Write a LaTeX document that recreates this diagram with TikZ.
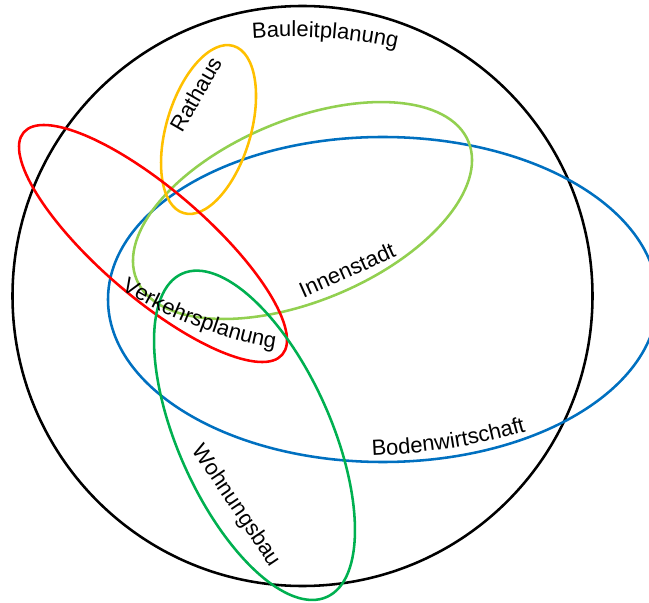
\documentclass[tikz,border=0pt]{standalone}
\usepackage{fontspec}
\setmainfont{Liberation Sans}
\usetikzlibrary{decorations.text}

\definecolor{gelb}{HTML}{FFC000}
\definecolor{hellgruen}{HTML}{92D050}
\definecolor{blau}{HTML}{0070C0}
\definecolor{rot}{HTML}{FF0000}
\definecolor{gruen}{HTML}{00B050}
\newcommand{\labelfont}{\fontsize{12.5}{15}\selectfont}

\begin{document}
\begin{tikzpicture}[x=0.02cm,y=0.02cm]
	\tikzstyle{every node}=[font=\labelfont,inner sep=0pt]
	\tikzstyle{rand}=[line width=1.45pt]

	\useasboundingbox (0,0) rectangle (649,602);
	\clip (0,0) rectangle (649,602);

	% Mittelpunkte der Mengen
	\coordinate (bauleit) at (302.5,306);
	\coordinate (boden) at (382.8,302.5);
	\coordinate (innen) at (302.5,391.5);
	\coordinate (rat) at (208.5,472.5);
	\coordinate (verkehr) at (153,358.5);
	\coordinate (wohnen) at (254.5,166.7);

	\draw[rand,black] (bauleit) circle (290);
	\draw[rand,blau] (boden) ellipse (274.8 and 162.5);
	\draw[rand,hellgruen,rotate around={22.6:(innen)}] (innen) ellipse (179.7 and 90.6);
	\draw[rand,gelb,rotate around={73.4:(rat)}] (rat) ellipse (87.2 and 42.2);
	\draw[rand,rot,rotate around={-40.7:(verkehr)}] (verkehr) ellipse (170.5 and 54);
	\draw[rand,gruen,rotate around={-65.9:(wohnen)}] (wohnen) ellipse (177.1 and 76.4);

	% Beschriftungen, gebogene laufen am Rand entlang
	\path[decorate,decoration={text along path,text align=center,
		text={|\labelfont|Bauleitplanung}}]
		(290.1,65.2) ++(101:500) arc[start angle=101,end angle=71,radius=500];
	\path[decorate,decoration={text along path,text align=center,
		text={|\labelfont|Verkehrsplanung}}]
		(115,317) .. controls (156,288) and (231,258) .. (282,253);
	\path[decorate,decoration={text along path,text align=center,
		text={|\labelfont|Bodenwirtschaft}}]
		(367,146) .. controls (422,148) and (478,156) .. (531,172);
	\node[rotate=60] (rathaus) at (196,508) {Rathaus};
	\node[rotate=24] (innenstadt) at (347,332) {Innenstadt};
	\node[rotate=-56] (wohnungsbau) at (236,96) {Wohnungsbau};
\end{tikzpicture}
\end{document}
